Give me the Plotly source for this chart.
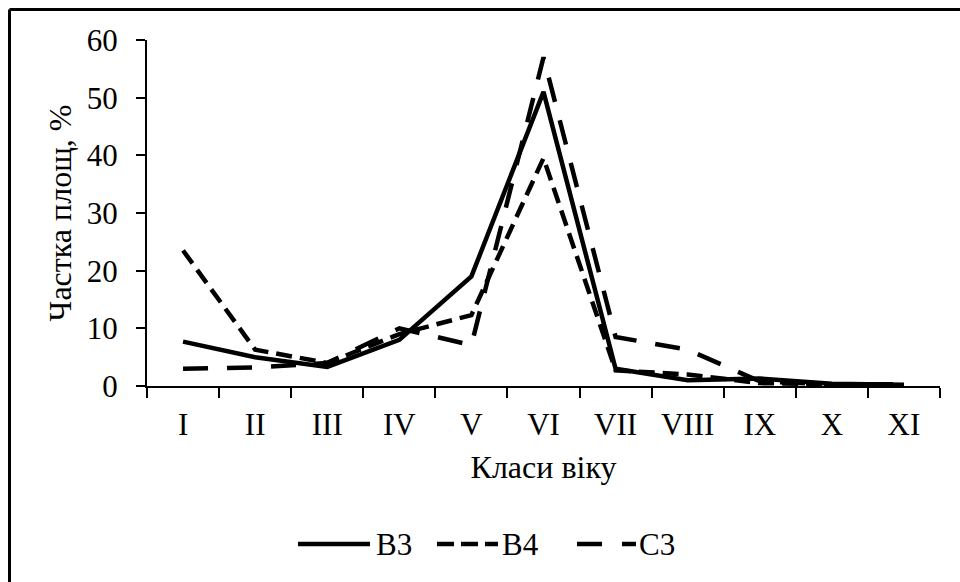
import plotly.graph_objects as go

categories = ["I", "II", "III", "IV", "V", "VI", "VII", "VIII", "IX", "X", "XI"]
b3 = [7.7, 5.0, 3.3, 8.0, 19.0, 51.0, 3.0, 1.0, 1.3, 0.4, 0.2]
b4 = [23.5, 6.3, 4.0, 9.0, 12.3, 39.5, 2.7, 2.0, 0.5, 0.3, 0.1]
c3 = [3.0, 3.2, 4.0, 10.0, 7.1, 57.0, 8.5, 6.3, 0.8, 0.3, 0.3]
y_ticks = [0, 10, 20, 30, 40, 50, 60]
series_names = ["B3", "B4", "C3"]

FONT = "Liberation Serif, Times New Roman, serif"
FS = 31
FT = 32

L, R, T, B = 147, 20, 40, 196
W, H = 960, 582
pw, ph = W - L - R, H - T - B


def px_x(px):
    return (px - L) / pw


def px_y(py):
    return (H - B - py) / ph


styles = [
    dict(color="black", width=4.5),
    dict(color="black", width=4.5, dash="16px,8px"),
    dict(color="black", width=4.5, dash="25px,19px"),
]
legend_styles = [
    dict(color="black", width=4.5),
    dict(color="black", width=4.5, dash="17px,7px"),
    dict(color="black", width=4.5, dash="25px,20px"),
]

fig = go.Figure()
for name, vals, st in zip(series_names, [b3, b4, c3], styles):
    fig.add_trace(go.Scatter(x=categories, y=vals, name=name, mode="lines",
                             line=st, showlegend=False))

fig.update_layout(
    width=W, height=H,
    margin=dict(l=L, r=R, t=T, b=B),
    paper_bgcolor="white", plot_bgcolor="white",
    font=dict(family=FONT, size=FS, color="black"),
    showlegend=False,
    xaxis=dict(
        type="category", categoryorder="array", categoryarray=categories,
        range=[-0.5, 10.5],
        showline=True, linecolor="black", linewidth=2,
        ticks="outside", ticklen=10, tickwidth=2, tickcolor="black",
        tickson="boundaries", showgrid=False, zeroline=False,
        ticklabelstandoff=10,
        title=dict(text="Класи віку", font=dict(size=FT, color="black"), standoff=14),
        tickfont=dict(size=FS, color="black"),
    ),
    yaxis=dict(
        range=[0, 60], tickvals=y_ticks,
        showline=True, linecolor="black", linewidth=2,
        ticks="outside", ticklen=9, tickwidth=2, tickcolor="black",
        showgrid=False, zeroline=False,
        ticklabelstandoff=12,
        title=dict(text="Частка площ, %", font=dict(size=FT, color="black"), standoff=6),
        tickfont=dict(size=FS, color="black"),
    ),
)

# chart frame (top and left edges visible)
top_y = px_y(9.5)
left_x = px_x(9.5)
fig.add_shape(type="line", xref="paper", yref="paper",
              x0=left_x, x1=px_x(990), y0=top_y, y1=top_y,
              line=dict(color="black", width=3))
fig.add_shape(type="line", xref="paper", yref="paper",
              x0=left_x, x1=left_x, y0=top_y, y1=px_y(620),
              line=dict(color="black", width=3))

# legend drawn manually (long line samples)
leg_y = px_y(544)
leg_items = [(298, 370, 374), (437, 498, 500), (577, 636, 637)]
for name, st, (x0, x1, tx) in zip(series_names, legend_styles, leg_items):
    fig.add_shape(type="line", xref="paper", yref="paper",
                  x0=px_x(x0), x1=px_x(x1), y0=leg_y, y1=leg_y, line=st)
    fig.add_annotation(xref="paper", yref="paper", x=px_x(tx), y=leg_y,
                       text=name, showarrow=False, xanchor="left", yanchor="middle",
                       font=dict(size=FS, family=FONT, color="black"))

fig.write_html("out.html", config={"displayModeBar": False},
               post_script="document.body.style.margin='0px';")
